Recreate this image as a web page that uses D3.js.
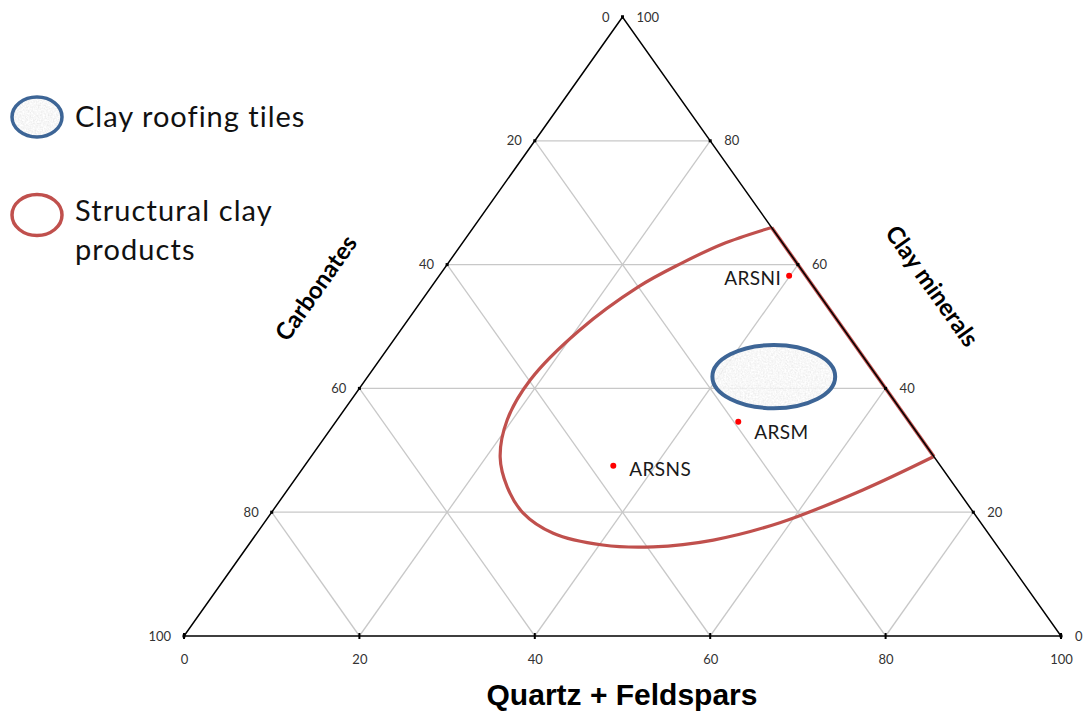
<!DOCTYPE html>
<html>
<head>
<meta charset="utf-8">
<script src="https://cdn.jsdelivr.net/npm/d3@7"></script>
<style>
  body { margin: 0; background: #fff; }
  text { font-family: Lato, "Open Sans", sans-serif; }
</style>
</head>
<body>
<div id="chart"></div>
<script>
// ternary data, all in percent (carbonates = 100 - quartz - clay)
const gridTicks = [20, 40, 60, 80]
const tickLabels = [0, 20, 40, 60, 80, 100]

const sampleNames = ["ARSNI", "ARSM", "ARSNS"]
const sampleQuartz = [39.9, 45.9, 35.2]
const sampleClay = [58.2, 34.6, 27.5]

// structural clay products field (open curve, closed along the clay-quartz side)
const structuralQuartz = [34, 29.7, 26.6, 23.6, 20.4, 18.8, 19.4, 21.6, 24.8, 28.7, 33.8, 40.4, 46.3, 52.6, 58.8, 65.6, 71]
const structuralClay = [66, 63.3, 60.2, 56.4, 49.4, 41.4, 34.9, 28.9, 24.1, 19.9, 16.6, 14.7, 14.4, 15.5, 18.3, 23.6, 29]

// clay roofing tiles field: centre and half-widths
const roofingCentre = [46.3, 41.9]
const roofingSpread = [7.0, 5.1]

const legendNames = ["Clay roofing tiles", "Structural clay products"]

function c1() {
    const width = 1083
    const height = 711
    const svg = d3.select("#chart").append("svg")
        .attr("width", width)
        .attr("height", height)

    svg.append("rect").attr("width", "100%").attr("height", "100%").attr("fill", "#fff")

    // x uses quartz + clay/2, y uses clay
    const xScale = d3.scaleLinear().domain([0, 100]).range([184, 1061])
    const yScale = d3.scaleLinear().domain([0, 100]).range([636, 17])
    const px = (q, c) => xScale(q + c / 2)
    const py = c => yScale(c)

    // stone texture
    const defs = svg.append("defs")
    const filt = defs.append("filter").attr("id", "stone")
        .attr("x", "0%").attr("y", "0%").attr("width", "100%").attr("height", "100%")
    filt.append("feTurbulence").attr("type", "fractalNoise")
        .attr("baseFrequency", 0.6).attr("numOctaves", 2).attr("seed", 3).attr("result", "noise")
    filt.append("feColorMatrix").attr("in", "noise").attr("type", "matrix")
        .attr("values", "0.3 0 0 0 0.78  0.3 0 0 0 0.78  0.3 0 0 0 0.78  0 0 0 0 1")
        .attr("result", "grey")
    filt.append("feComposite").attr("in", "grey").attr("in2", "SourceAlpha").attr("operator", "in")

    let graph = svg.append("g")

    // grid
    let grid = graph.append("g").attr("stroke", "#c8c8c8").attr("stroke-width", 1.3)
    gridTicks.forEach(function(t) {
        // constant clay
        grid.append("line").attr("x1", px(0, t)).attr("y1", py(t)).attr("x2", px(100 - t, t)).attr("y2", py(t))
        // constant quartz
        grid.append("line").attr("x1", px(t, 0)).attr("y1", py(0)).attr("x2", px(t, 100 - t)).attr("y2", py(100 - t))
        // constant carbonates
        grid.append("line").attr("x1", px(100 - t, 0)).attr("y1", py(0)).attr("x2", px(0, 100 - t)).attr("y2", py(100 - t))
    })

    // structural clay field
    const redCol = "#c0504d"
    const pts = structuralQuartz.map((q, i) => [px(q, structuralClay[i]), py(structuralClay[i])])
    graph.append("path")
        .attr("d", d3.line().curve(d3.curveCatmullRom.alpha(0.5))(pts))
        .attr("fill", "none").attr("stroke", redCol).attr("stroke-width", 3.2)
    graph.append("line")
        .attr("x1", pts[0][0]).attr("y1", pts[0][1])
        .attr("x2", pts[pts.length - 1][0]).attr("y2", pts[pts.length - 1][1])
        .attr("stroke", redCol).attr("stroke-width", 3.6)

    // triangle frame
    const corners = [[px(0, 100), py(100)], [px(0, 0), py(0)], [px(100, 0), py(0)]]
    graph.append("path")
        .attr("d", "M" + corners.join("L") + "Z")
        .attr("fill", "none").attr("stroke", "#000").attr("stroke-width", 1.5)

    // tick marks
    let ticks = graph.append("g").attr("fill", "#000")
    tickLabels.forEach(function(t) {
        ticks.append("rect").attr("x", px(t, 0) - 1).attr("y", py(0) - 3).attr("width", 2).attr("height", 6)
        ticks.append("rect").attr("x", px(0, t) - 1.5).attr("y", py(t) - 1.5).attr("width", 3).attr("height", 3)
        ticks.append("rect").attr("x", px(100 - t, t) - 1.5).attr("y", py(t) - 1.5).attr("width", 3).attr("height", 3)
    })

    // roofing tiles field
    const ex = px(roofingCentre[0], roofingCentre[1])
    const ey = py(roofingCentre[1])
    const erx = xScale(roofingSpread[0]) - xScale(0)
    const ery = yScale(0) - yScale(roofingSpread[1])
    graph.append("ellipse").attr("cx", ex).attr("cy", ey).attr("rx", erx).attr("ry", ery)
        .attr("fill", "#fff").attr("filter", "url(#stone)").attr("opacity", 0.85)
    graph.append("ellipse").attr("cx", ex).attr("cy", ey).attr("rx", erx).attr("ry", ery)
        .attr("fill", "none").attr("stroke", "#3d6596").attr("stroke-width", 4)

    // samples
    const labelDx = [-8, 16, 16]
    const labelAnchor = ["end", "start", "start"]
    const labelDy = [3, 11, 4]
    sampleNames.forEach(function(name, i) {
        const x = px(sampleQuartz[i], sampleClay[i])
        const y = py(sampleClay[i])
        graph.append("circle").attr("cx", x).attr("cy", y).attr("r", 3).attr("fill", "#ff0000")
        graph.append("text").attr("x", x + labelDx[i]).attr("y", y + labelDy[i]).attr("dy", "0.35em")
            .attr("text-anchor", labelAnchor[i]).attr("font-size", 19).attr("fill", "#1a1a1a")
            .attr("letter-spacing", 0.4)
            .text(name)
    })

    // bottom axis: quartz + feldspars
    const axisX = d3.axisBottom(xScale).tickValues(tickLabels).tickSize(0).tickPadding(19)
    let ax = graph.append("g").attr("transform", `translate(0,${py(0)})`).call(axisX)
    ax.select(".domain").remove()
    ax.selectAll("text").attr("font-size", 13).attr("fill", "#333").style("font-family", "Lato, sans-serif")

    // left side: carbonates (100 - clay)
    tickLabels.forEach(function(t) {
        graph.append("text").attr("x", px(0, t) - 13).attr("y", py(t)).attr("dy", "0.35em")
            .attr("text-anchor", "end").attr("font-size", 13).attr("fill", "#333")
            .text(100 - t)
        // right side: clay minerals
        graph.append("text").attr("x", px(100 - t, t) + 14).attr("y", py(t)).attr("dy", "0.35em")
            .attr("text-anchor", "start").attr("font-size", 13).attr("fill", "#333")
            .text(t)
    })

    // axis titles
    const sideAngle = Math.atan2(py(0) - py(100), px(0, 100) - px(0, 0)) * 180 / Math.PI
    graph.append("text").attr("x", 622).attr("y", 694).attr("dy", "0.35em")
        .attr("text-anchor", "middle").attr("font-size", 30).attr("font-weight", "bold")
        .style("font-family", "'Liberation Sans', Arial, sans-serif")
        .text("Quartz + Feldspars")
    graph.append("text").attr("transform", `translate(316,288) rotate(${-sideAngle})`)
        .attr("dy", "0.35em").attr("text-anchor", "middle")
        .attr("font-size", 24).attr("font-weight", "bold").text("Carbonates")
    graph.append("text").attr("transform", `translate(932,286) rotate(${sideAngle})`)
        .attr("dy", "0.35em").attr("text-anchor", "middle")
        .attr("font-size", 24).attr("font-weight", "bold").text("Clay minerals")

    // legend
    let legend = svg.append("g")
    legend.append("ellipse").attr("cx", 37).attr("cy", 117).attr("rx", 25).attr("ry", 20)
        .attr("fill", "#fff").attr("filter", "url(#stone)")
    legend.append("ellipse").attr("cx", 37).attr("cy", 117).attr("rx", 25).attr("ry", 20)
        .attr("fill", "none").attr("stroke", "#3d6596").attr("stroke-width", 3.5)
    legend.append("ellipse").attr("cx", 37).attr("cy", 215).attr("rx", 25).attr("ry", 20.5)
        .attr("fill", "#fff").attr("stroke", redCol).attr("stroke-width", 3.5)
    legend.append("text").attr("x", 75).attr("y", 127).attr("font-size", 29).attr("fill", "#111")
        .attr("letter-spacing", 1).text(legendNames[0])
    let t2 = legend.append("text").attr("x", 75).attr("y", 221).attr("font-size", 29).attr("fill", "#111")
        .attr("letter-spacing", 1.1)
    t2.append("tspan").attr("x", 75).text("Structural clay")
    t2.append("tspan").attr("x", 75).attr("dy", 39).text("products")
}

c1();
</script>
</body>
</html>
